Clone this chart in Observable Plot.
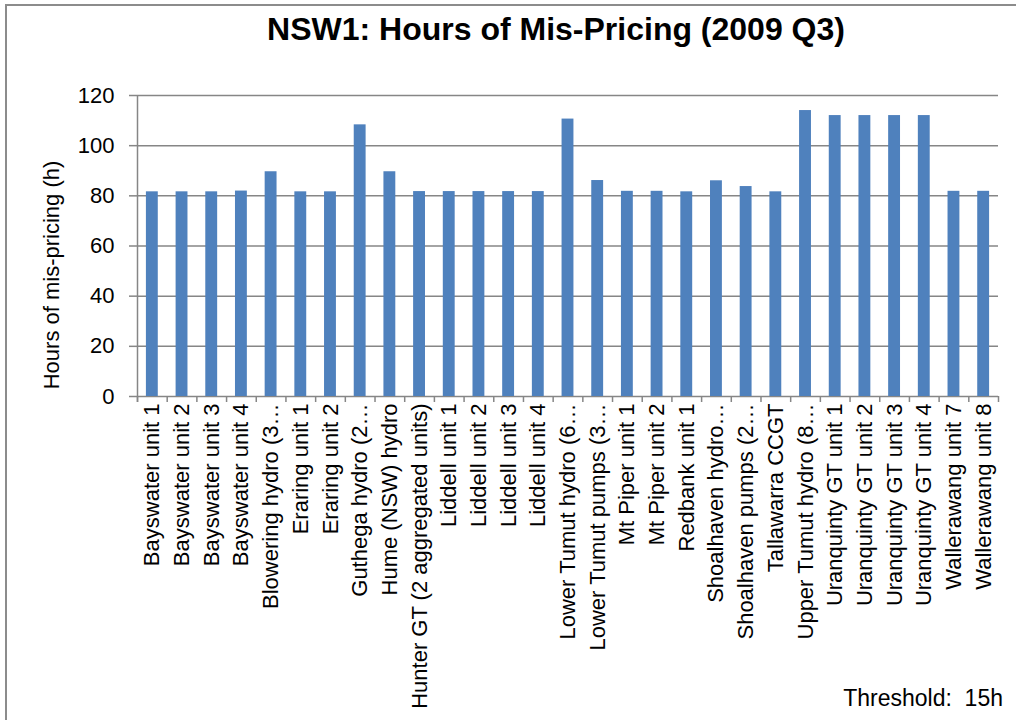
<!DOCTYPE html>
<html>
<head>
<meta charset="utf-8">
<script src="https://cdn.jsdelivr.net/npm/d3@7"></script>
<script src="https://cdn.jsdelivr.net/npm/@observablehq/plot@0.6"></script>
<style>
  html, body { margin: 0; padding: 0; background: #fff; overflow: hidden; }
  #wrap { position: relative; width: 1016px; height: 720px; overflow: hidden; font-family: "Liberation Sans", Arial, sans-serif; }
  #border { position: absolute; left: 5px; top: 4px; width: 1100px; height: 800px; border: 2px solid #8c8c8c; box-sizing: border-box; }
  #title { position: absolute; top: 13px; left: 556px; transform: translateX(-50%); font-size: 32px; font-weight: bold; line-height: 32px; white-space: nowrap; color: #000; }
  #thresh { position: absolute; top: 687px; right: 13px; font-size: 23px; line-height: 23px; white-space: pre; color: #000; }
  #chart { position: absolute; left: 0; top: 0; }
</style>
</head>
<body>
<div id="wrap">
  <div id="border"></div>
  <div id="chart"></div>
  <div id="title">NSW1: Hours of Mis-Pricing (2009 Q3)</div>
  <div id="thresh">Threshold:  15h</div>
</div>
<script>
const categories = [
  "Bayswater unit 1", "Bayswater unit 2", "Bayswater unit 3", "Bayswater unit 4",
  "Blowering hydro (3…", "Eraring unit 1", "Eraring unit 2", "Guthega hydro (2…",
  "Hume (NSW) hydro", "Hunter GT (2 aggregated units)", "Liddell unit 1", "Liddell unit 2",
  "Liddell unit 3", "Liddell unit 4", "Lower Tumut hydro (6…", "Lower Tumut pumps (3…",
  "Mt Piper unit 1", "Mt Piper unit 2", "Redbank unit 1", "Shoalhaven hydro…",
  "Shoalhaven pumps (2…", "Tallawarra CCGT", "Upper Tumut hydro (8…", "Uranquinty GT unit 1",
  "Uranquinty GT unit 2", "Uranquinty GT unit 3", "Uranquinty GT unit 4", "Wallerawang unit 7",
  "Wallerawang unit 8"
];
const hours = [
  81.6, 81.6, 81.6, 81.9,
  89.6, 81.6, 81.6, 108.3,
  89.6, 81.7, 81.7, 81.7,
  81.7, 81.7, 110.6, 86.1,
  81.8, 81.8, 81.6, 86.0,
  83.7, 81.6, 114.0, 112.0,
  112.0, 112.0, 112.0, 81.8,
  81.8
];
const yTicks = [0, 20, 40, 60, 80, 100, 120];
const yLabel = "Hours of mis-pricing (h)";

const data = categories.map((c, i) => ({name: c, value: hours[i]}));

const W = 1016, H = 720, ML = 137, MR = 18, MT = 95, MB = 324;
const step = (W - ML - MR) / categories.length;
const grid = "#868686";
const tickBelow = -2.4;

const chart = Plot.plot({
  width: W,
  height: H,
  marginLeft: ML,
  marginRight: MR,
  marginTop: MT,
  marginBottom: MB,
  style: {fontFamily: "'Liberation Sans', Arial, sans-serif", fontSize: "22px", color: "#000", background: "transparent"},
  x: {type: "band", domain: categories, paddingInner: 0.6, paddingOuter: 0.3, round: false},
  y: {domain: [0, 120]},
  marks: [
    Plot.gridY(yTicks, {stroke: grid, strokeOpacity: 1, strokeWidth: 1.5}),
    Plot.barY(data, {x: "name", y: "value", fill: "#4F81BD"}),
    Plot.ruleX([categories[0]], {dx: -step / 2, y1: tickBelow, y2: 120, stroke: grid, strokeWidth: 1.5}),
    Plot.ruleX(categories, {dx: -step / 2, y1: 0, y2: tickBelow, stroke: grid, strokeWidth: 1.5}),
    Plot.ruleX([categories[categories.length - 1]], {dx: step / 2, y1: 0, y2: tickBelow, stroke: grid, strokeWidth: 1.5}),
    Plot.axisY(yTicks, {tickSize: 8, tickPadding: 15, stroke: grid, strokeWidth: 1.5, fill: "#000", fontSize: 22, label: null}),
    Plot.axisX({tickSize: 0, tickPadding: 7, tickRotate: -90, fontSize: 22, fill: "#000", label: null}),
    Plot.text([yLabel], {frameAnchor: "left", textAnchor: "middle", lineAnchor: "middle", dx: -86, dy: 29, rotate: -90, fontSize: 22, fill: "#000", text: d => d})
  ]
});
document.getElementById("chart").appendChild(chart);
</script>
</body>
</html>
